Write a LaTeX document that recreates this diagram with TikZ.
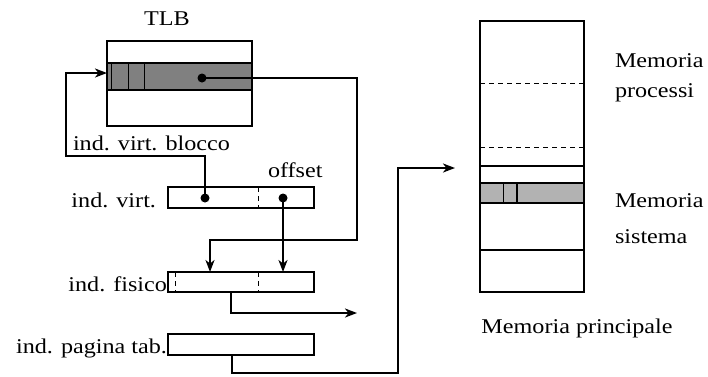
\documentclass[tikz,border=0pt]{standalone}
\usepackage{fontspec}
\setmainfont{Liberation Serif}[FakeStretch=1.15]
\usetikzlibrary{arrows.meta}
\begin{document}
\begin{tikzpicture}[x=1pt,y=-1pt,
  every node/.style={inner sep=0pt,outer sep=0pt},
  lbl/.style={font=\fontsize{21}{25}\selectfont},
  box/.style={draw,line width=2pt,anchor=north west},
  conn/.style={line width=2pt},
  arr/.style={conn,-{Stealth[length=12pt,width=9pt,inset=3.5pt]}},
  dotc/.style={circle,fill=black,minimum size=9pt},
  dashline/.style={dashed,line width=0.9pt,dash pattern=on 5pt off 4pt}]
\useasboundingbox (0,0) rectangle (708,376);
\fill[white] (0,0) rectangle (708,376);

% TLB
\node[lbl,anchor=base] (tlblbl) at (167,25) {TLB};
\fill[black!50] (107,63) rectangle (252,90);
\draw[line width=1pt] (111,63) -- (111,90) (128,63) -- (128,90) (144,63) -- (144,90);
\draw[line width=2pt] (107,63) -- (252,63) (107,90) -- (252,90);
\node[box,minimum width=145pt,minimum height=85pt] (tlb) at (107,41) {};
\node[dotc] (tlbdot) at (202,78) {};

% address boxes
\node[box,minimum width=146pt,minimum height=21pt] (virt) at (168,187) {};
\draw[dashline] (258,187) -- (258,208);
\node[box,minimum width=146pt,minimum height=20pt] (fis) at (168,272) {};
\draw[dashline] (175,272) -- (175,292) (258,272) -- (258,292);
\node[box,minimum width=146pt,minimum height=21pt] (pt) at (168,334) {};
\node[dotc] (vdot1) at (205,198) {};
\node[dotc] (vdot2) at (283,198) {};

% labels
\node[lbl,anchor=base west] (lblock) at (73,150) {ind. virt. blocco};
\node[lbl,anchor=base west] (loff) at (268,177) {offset};
\node[lbl,anchor=base east] (lvirt) at (156,207) {ind. virt.};
\node[lbl,anchor=base east] (lfis) at (167,291) {ind. fisico};
\node[lbl,anchor=base east] (lpt) at (167,353) {ind. pagina tab.};

% main memory
\fill[black!30] (480,183) rectangle (584,203);
\draw[line width=1pt] (503,183) -- (503,203);
\draw[line width=2pt] (517,183) -- (517,203);
\draw[dashline] (480,83) -- (584,83) (480,147) -- (584,147);
\draw[line width=2pt] (480,166) -- (584,166) (480,183) -- (584,183) (480,203) -- (584,203) (480,250) -- (584,250);
\node[box,minimum width=104pt,minimum height=271pt] (mem) at (480,21) {};
\node[lbl,anchor=base west] (lmp1) at (615,67) {Memoria};
\node[lbl,anchor=base west] (lmp2) at (615,97) {processi};
\node[lbl,anchor=base west] (lms1) at (615,207) {Memoria};
\node[lbl,anchor=base west] (lms2) at (615,243) {sistema};
\node[lbl,anchor=base] (lmain) at (577,333) {Memoria principale};

% coordinates
\coordinate (c1) at (357,240);
\coordinate (fisIn1) at (210,272);
\coordinate (fisIn2) at (283,272);
\coordinate (c2) at (66,156);
\coordinate (tlbIn) at (107,73);
\coordinate (fisOut) at (231,292);
\coordinate (physOut) at (357,313);
\coordinate (ptOut) at (232,355);
\coordinate (c5) at (398,373);
\coordinate (memIn) at (455,168);

% connectors
\draw[arr] (tlbdot.center) -| (c1) -| (fisIn1);
\draw[arr] (vdot1.center) |- (c2) |- (tlbIn);
\draw[arr] (vdot2.center) -- (fisIn2);
\draw[arr] (fisOut) |- (physOut);
\draw[arr] (ptOut) |- (c5) |- (memIn);
\end{tikzpicture}
\end{document}
